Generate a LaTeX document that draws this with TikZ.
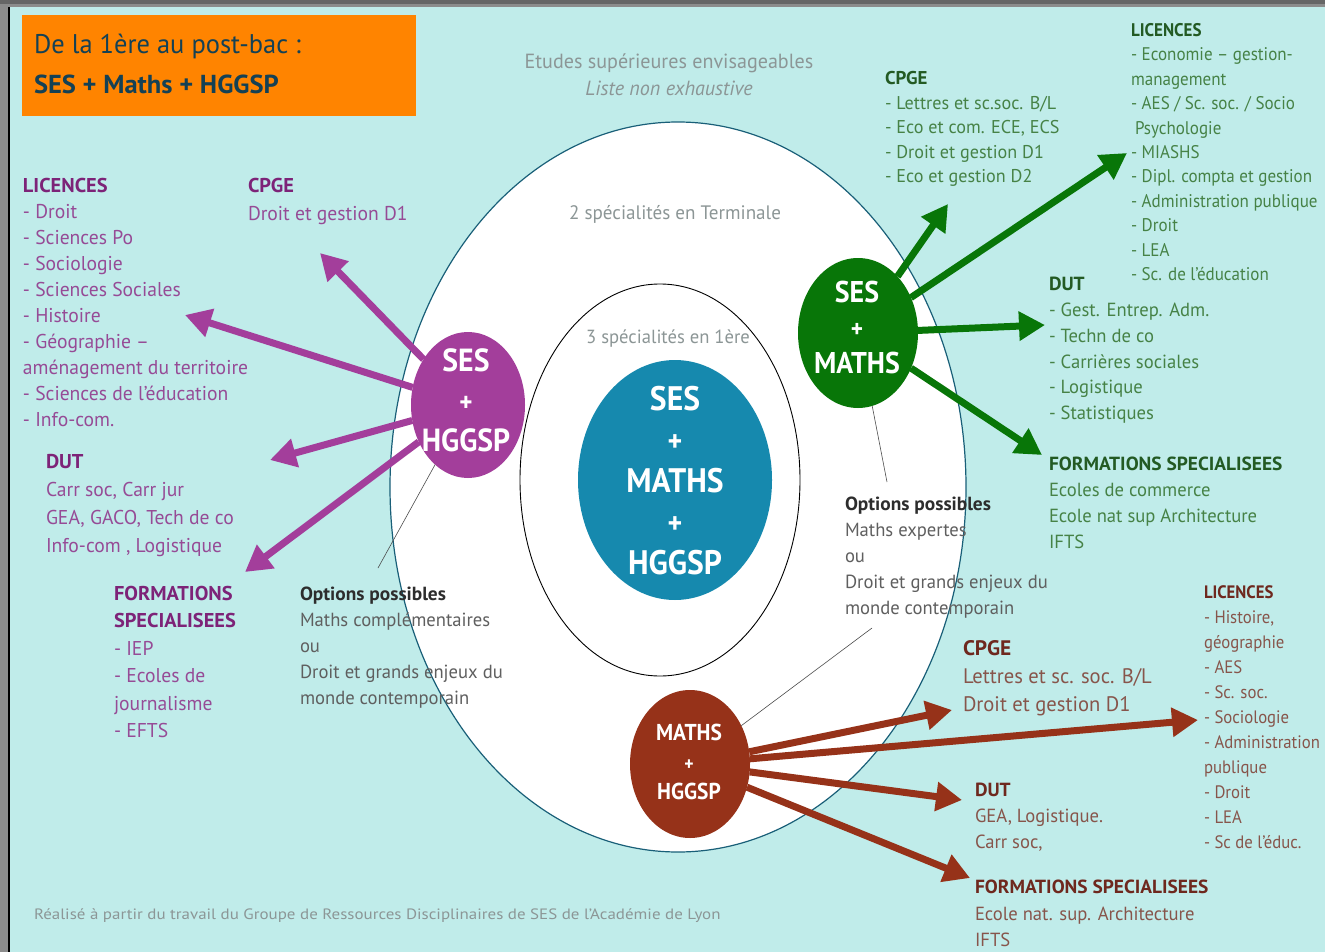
\documentclass[tikz,border=0pt]{standalone}
\usepackage{fontspec}
\setmainfont{PT Sans}[FakeStretch=0.98,BoldFeatures={FakeStretch=1.02}]
\newfontfamily\circfont{PT Sans}[FakeStretch=0.93]
\newfontfamily\widefont{PT Sans}[FakeStretch=1.13]
\usetikzlibrary{shapes.geometric,arrows.meta}
\definecolor{bgc}{RGB}{192,236,234}
\definecolor{framec}{RGB}{140,140,140}
\definecolor{orangec}{RGB}{255,132,0}
\definecolor{titlec}{RGB}{20,65,85}
\definecolor{purpA}{RGB}{163,62,155}
\definecolor{purpH}{RGB}{125,35,120}
\definecolor{purpB}{RGB}{150,75,150}
\definecolor{greenA}{RGB}{8,118,8}
\definecolor{greenH}{RGB}{35,90,35}
\definecolor{greenB}{RGB}{70,130,70}
\definecolor{brownA}{RGB}{150,50,25}
\definecolor{brownH}{RGB}{110,40,30}
\definecolor{brownB}{RGB}{135,85,75}
\definecolor{blueC}{RGB}{22,137,174}
\definecolor{grayT}{RGB}{140,150,150}
\definecolor{optH}{RGB}{45,45,45}
\definecolor{optB}{RGB}{95,95,95}
\definecolor{ellB}{RGB}{25,95,120}
\newcommand\fs[2]{\fontsize{#1}{#2}\selectfont}
\begin{document}
\begin{tikzpicture}[x=1pt,y=-1pt,
  every node/.style={inner sep=0pt,outer sep=0pt},
  blk/.style={anchor=north west,align=left},
  spec/.style={ellipse,draw=none,minimum width=#1},
  ctext/.style={align=center,text=white},
  parr/.style={draw=purpA,line width=7pt,-{Triangle[length=26pt,width=28pt]}},
  garr/.style={draw=greenA,line width=7pt,-{Triangle[length=26pt,width=28pt]}},
  barr/.style={draw=brownA,line width=7pt,-{Triangle[length=26pt,width=28pt]}},
  pointer/.style={draw=black!70,line width=0.6pt}]
\useasboundingbox (0,0) rectangle (1325,952);
% frame and background
\fill[framec] (0,0) rectangle (1325,952);
\fill[black!60] (0,0) rectangle (1325,4);
\fill[bgc] (9,7) rectangle (1325,952);
\draw[black,line width=1.5pt] (9,7) -- (9,952);
% title
\node[fill=orangec,minimum width=394pt,minimum height=101pt,anchor=north west] (titlebox) at (22,15) {};
\node[blk,text=titlec,font=\fs{27}{40}] (title) at (34,34) {De la 1ère au post-bac :\\{\bfseries\fs{26}{40}SES + Maths + HGGSP}};
\node[anchor=north,align=center,text=grayT,font=\fs{20.5}{27}] (etudes) at (669,53.5) {Etudes supérieures envisageables\\\itshape Liste non exhaustive};
% ellipses
\draw[fill=white,draw=ellB,line width=1.2pt] (678,487) ellipse [x radius=288pt,y radius=365pt];
\draw[fill=white,draw=black,line width=0.9pt] (660,480) ellipse [x radius=140pt,y radius=196pt];
\node[anchor=base,text=grayT,font=\fs{19.5}{22}] (term) at (675,219) {2 spécialités en Terminale};
\node[anchor=base,text=grayT,font=\fs{19}{22}] (prem) at (668,343) {3 spécialités en 1ère};
% specialty circles
\node[spec=194pt,minimum height=240pt,fill=blueC] (mc) at (675,480) {};
\node[ctext,font=\circfont\bfseries\fs{34}{41}] (mcT) at (675,481) {SES\\{\fs{30}{30}+}\\MATHS\\{\fs{30}{30}+}\\HGGSP};
\node[spec=114pt,minimum height=146pt,fill=purpA] (pc) at (468,405) {};
\node[ctext,font=\circfont\bfseries\fs{32}{40}] (pcT) at (466,400) {SES\\{\fs{27}{27}+}\\HGGSP};
\node[spec=120pt,minimum height=150pt,fill=greenA] (gc) at (858,333) {};
\node[ctext,font=\circfont\bfseries\fs{30}{35.5}] (gcT) at (857,327) {SES\\{\fs{25}{25}+}\\MATHS};
\node[spec=120pt,minimum height=148pt,fill=brownA] (bc) at (690,764) {};
\node[ctext,font=\circfont\bfseries\fs{23}{29.5}] (bcT) at (689,762) {MATHS\\{\fs{19}{19}+}\\HGGSP};
% arrow targets
\coordinate (pcpge) at (320,253);
\coordinate (plic) at (185,315);
\coordinate (pdut) at (270,460);
\coordinate (pform) at (245,572);
\coordinate (gcpge) at (948,204);
\coordinate (glic) at (1127,153);
\coordinate (gdut) at (1045,325);
\coordinate (gform) at (1042,455);
\coordinate (bcpge) at (952,710);
\coordinate (blic) at (1198,720);
\coordinate (bdut) at (962,800);
\coordinate (bform) at (970,878);
\draw[parr] (pc) -- (pcpge);
\draw[parr] (pc) -- (plic);
\draw[parr] (pc) -- (pdut);
\draw[parr] (pc) -- (pform);
\draw[garr] (gc) -- (gcpge);
\draw[garr] (gc) -- (glic);
\draw[garr] (gc) -- (gdut);
\draw[garr] (gc) -- (gform);
\draw[barr] (bc) -- (bcpge);
\draw[barr] (bc) -- (blic);
\draw[barr] (bc) -- (bdut);
\draw[barr] (bc) -- (bform);
% pointers
\coordinate (optLend) at (378,568);
\coordinate (optRend) at (887,482);
\coordinate (optR2end) at (872,628);
\draw[pointer] (optLend) -- (pc);
\draw[pointer] (optRend) -- (gc);
\draw[pointer] (optR2end) -- (bc);
% purple texts
\node[blk,text=purpB,font=\fs{20}{26}] (plicT) at (23,178) {{\bfseries\color{purpH}LICENCES}\\- Droit\\- Sciences Po\\- Sociologie\\- Sciences Sociales\\- Histoire\\- Géographie –\\aménagement du territoire\\- Sciences de l’éducation\\- Info-com.};
\node[blk,text=purpB,font=\fs{20}{28}] (pcpgeT) at (248,178) {{\bfseries\color{purpH}CPGE}\\Droit et gestion D1};
\node[blk,text=purpB,font=\fs{20}{28}] (pdutT) at (46,454) {{\bfseries\color{purpH}DUT}\\Carr soc, Carr jur\\GEA, GACO, Tech de co\\Info-com , Logistique};
\node[blk,text=purpB,font=\fs{20}{27.5}] (pformT) at (114,586) {{\bfseries\color{purpH}FORMATIONS}\\{\bfseries\color{purpH}SPECIALISEES}\\- IEP\\- Ecoles de\\journalisme\\- EFTS};
% options
\node[blk,text=optB,font=\fs{19}{26}] (optL) at (300,586.5) {{\bfseries\color{optH}Options possibles}\\Maths complémentaires\\ou\\Droit et grands enjeux du\\monde contemporain};
\node[blk,text=optB,font=\fs{19}{26}] (optR) at (845,496.5) {{\bfseries\color{optH}Options possibles}\\Maths expertes\\ou\\Droit et grands enjeux du\\monde contemporain};
% green texts
\node[blk,text=greenB,font=\fs{18.5}{24.5}] (gcpgeT) at (885,71.5) {{\bfseries\color{greenH}CPGE}\\- Lettres et sc.soc. B/L\\- Eco et com. ECE, ECS\\- Droit et gestion D1\\- Eco et gestion D2};
\node[blk,text=greenB,font=\circfont\fs{18.3}{24.4}] (glicT) at (1131,23.5) {{\bfseries\color{greenH}LICENCES}\\- Economie – gestion-\\management\\- AES / Sc. soc. / Socio\\\hspace*{4pt}Psychologie\\- MIASHS\\- Dipl. compta et gestion\\- Administration publique\\- Droit\\- LEA\\- Sc. de l’éducation};
\node[blk,text=greenB,font=\fs{19}{25.8}] (gdutT) at (1049,277.3) {{\bfseries\color{greenH}DUT}\\- Gest. Entrep. Adm.\\- Techn de co\\- Carrières sociales\\- Logistique\\- Statistiques};
\node[blk,text=greenB,font=\fs{19}{25.8}] (gformT) at (1049,457.3) {{\bfseries\color{greenH}FORMATIONS SPECIALISEES}\\Ecoles de commerce\\Ecole nat sup Architecture\\IFTS};
% brown texts
\node[blk,text=brownB,font=\fs{21}{28}] (bcpgeT) at (963,640.5) {{\bfseries\color{brownH}CPGE}\\Lettres et sc. soc. B/L\\Droit et gestion D1};
\node[blk,text=brownB,font=\circfont\fs{18}{25}] (blicT) at (1204,585.5) {{\bfseries\color{brownH}LICENCES}\\- Histoire,\\géographie\\- AES\\- Sc. soc.\\- Sociologie\\- Administration\\publique\\- Droit\\- LEA\\- Sc de l’éduc.};
\node[blk,text=brownB,font=\fs{19}{26}] (bdutT) at (975,783.3) {{\bfseries\color{brownH}DUT}\\GEA, Logistique.\\Carr soc,};
\node[blk,text=brownB,font=\fs{19}{26.5}] (bformT) at (975,880.3) {{\bfseries\color{brownH}FORMATIONS SPECIALISEES}\\Ecole nat. sup. Architecture\\IFTS};
% note
\node[anchor=base west,text=grayT,font=\widefont\fs{15}{18}] (note) at (34,919) {Réalisé à partir du travail du Groupe de Ressources Disciplinaires de SES de l’Académie de Lyon};
\end{tikzpicture}
\end{document}
